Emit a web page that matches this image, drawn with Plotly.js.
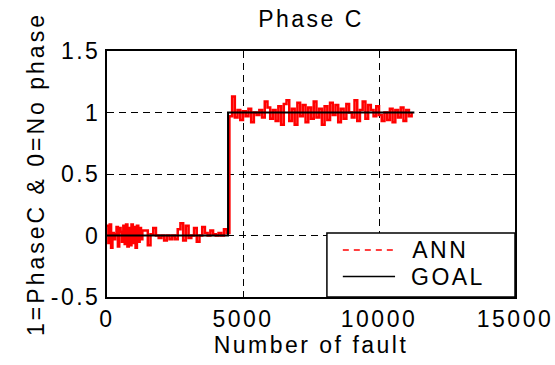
<!DOCTYPE html>
<html><head><meta charset="utf-8">
<script src="https://cdn.plot.ly/plotly-3.0.1.min.js"></script>
<style>
html,body{margin:0;padding:0;background:#fff}
#chart svg text{letter-spacing:2.5px}
#chart svg .g-ytitle text{letter-spacing:3px}
</style>
</head><body><div id="chart" style="width:555px;height:365px"></div>
<script>
const annX = [0,50,100,150,200,250,300,350,400,450,500,550,600,650,700,750,800,850,900,950,1000,1050,1100,1150,1200,1250,1300,
1400,1500,1600,1700,1800,1900,2000,2100,2200,2300,2400,2500,2600,2700,2800,2900,3000,3100,3200,3300,3400,3500,3600,3700,3800,3900,4000,4100,4200,4300,4400,
4500,4600,4700,4800,4900,5000,5100,5200,5300,5400,5500,5600,5700,5800,5900,6000,6100,6200,6300,6400,6500,6600,6700,6800,6900,
7000,7100,7200,7300,7400,7500,7600,7700,7800,7900,8000,8100,8200,8300,8400,8500,8600,8700,8800,8900,
9000,9100,9200,9300,9400,9500,9600,9700,9800,9900,10000,10100,10200,10300,10400,10500,10600,10700,10800,10900,11000,11100,11200];
const annY = [0.08,-0.06,0.09,-0.1,0.02,-0.03,0.01,0.07,-0.09,0.06,
0.03,-0.05,0.08,-0.07,0.09,-0.09,0.06,-0.08,0.09,-0.06,
0.07,-0.1,0.08,-0.05,0.06,-0.03,0.04,
0.04,-0.08,0.01,0.06,0,-0.02,0,-0.04,0,-0.03,0,-0.03,0.05,0.1,-0.04,0.08,-0.02,0,0.06,-0.05,0,0.07,0.02,0,0.04,0.01,0,0.02,0,0.05,0.02,
0.97,1.13,0.96,1.02,0.94,1.01,0.97,1.03,0.92,1.0,0.98,1.02,0.96,1.09,1.04,0.95,1.02,0.93,1.05,0.9,1.07,1.1,0.93,1.03,0.9,
1.08,0.97,1.06,0.92,1.04,0.95,1.09,0.96,1.03,0.9,1.05,0.94,1.08,0.98,1.06,0.92,1.03,0.95,1.07,1.0,
0.96,1.1,0.93,1.02,1.09,0.95,1.06,1.02,0.97,1.05,0.98,0.93,1.0,0.94,1.03,0.92,1.02,0.96,1.04,0.93,1.02,0.97,1.0];
const goalX = [0, 4450, 4450, 11300];
const goalY = [0, 0, 1, 1];
const xTicks = [0, 5000, 10000, 15000];
const xTickText = ['0', '5000', '10000', '15000'];
const yTicks = [-0.5, 0, 0.5, 1, 1.5];
const yTickText = ['-0.5', '0', '0.5', '1', '1.5'];
const seriesNames = ['ANN', 'GOAL'];

const traces = [
  {x:annX, y:annY, mode:'lines', name:seriesNames[0], line:{color:'#ff0000', width:2.5, shape:'hv'}},
  {x:goalX, y:goalY, mode:'lines', name:seriesNames[1], line:{color:'#000000', width:2}}
];
const axisCommon = {
  ticks:'inside', ticklen:5, tickcolor:'#000', mirror:'ticks', showline:true, linecolor:'#000', linewidth:2,
  showgrid:true, gridcolor:'#000', gridwidth:1, griddash:'7px,5px', zeroline:false, fixedrange:true
};
// custom legend box (MATLAB style), paper coordinates
const lg = {x0:0.539, x1:1, y0:0, y1:0.26, lx0:0.578, lx1:0.706, tx:0.752, row:[0.191, 0.083]};
const layout = {
  width:555, height:365,
  margin:{l:107, r:40, t:51, b:68},
  paper_bgcolor:'#fff', plot_bgcolor:'#fff',
  font:{family:'Liberation Sans, Arial, sans-serif', size:23, color:'#000'},
  showlegend:false,
  title:{text:'Phase C', x:0.5, xref:'paper', xanchor:'center', y:1-19/365, yanchor:'middle', font:{size:23, color:'#000'}},
  xaxis:Object.assign({}, axisCommon, {range:[0,15000], tickmode:'array', tickvals:xTicks, ticktext:xTickText,
    title:{text:'Number of fault', font:{size:23}, standoff:6}}),
  yaxis:Object.assign({}, axisCommon, {range:[-0.5,1.5], tickmode:'array', tickvals:yTicks, ticktext:yTickText,
    title:{text:'1=PhaseC & 0=No phase', font:{size:23}, standoff:10}}),
  shapes:[
    {type:'rect', xref:'paper', yref:'paper', x0:lg.x0, x1:lg.x1, y0:lg.y0, y1:lg.y1, line:{color:'#000', width:1.5}, fillcolor:'#fff', layer:'above'},
    {type:'line', xref:'paper', yref:'paper', x0:lg.lx0, x1:lg.lx1, y0:lg.row[0], y1:lg.row[0], line:{color:'#ff0000', width:1.5, dash:'6px,5px'}, layer:'above'},
    {type:'line', xref:'paper', yref:'paper', x0:lg.lx0, x1:lg.lx1, y0:lg.row[1], y1:lg.row[1], line:{color:'#000', width:1.5}, layer:'above'}
  ],
  annotations:[
    {xref:'paper', yref:'paper', x:lg.tx, y:lg.row[0], xanchor:'left', yanchor:'middle', text:seriesNames[0], showarrow:false, font:{size:23, color:'#000'}},
    {xref:'paper', yref:'paper', x:lg.tx, y:lg.row[1], xanchor:'left', yanchor:'middle', text:seriesNames[1], showarrow:false, font:{size:23, color:'#000'}}
  ]
};
Plotly.newPlot('chart', traces, layout, {displayModeBar:false, staticPlot:true});
</script>
</body></html>
